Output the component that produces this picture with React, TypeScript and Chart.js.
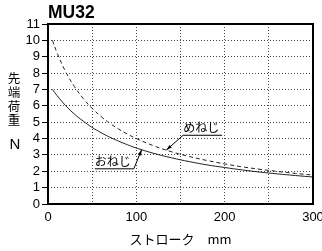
import React, { useEffect, useRef } from "react";
import { Chart, registerables } from "chart.js";

Chart.register(...registerables);

const title = "MU32";
const yTitleChars = ["先", "端", "荷", "重"];
const yUnit = "N";
const xTitle = "ストローク　mm";

const strokeMm = [5, 10, 20, 30, 40, 50, 60, 70, 80, 90, 100, 120, 140, 160, 180, 200, 220, 240, 260, 280, 300];
const meneji = [10.0, 9.27, 8.08, 7.17, 6.44, 5.84, 5.35, 4.93, 4.58, 4.27, 4.0, 3.55, 3.19, 2.9, 2.66, 2.45, 2.27, 2.12, 1.99, 1.87, 1.77];
const oneji = [7.0, 6.64, 6.01, 5.49, 5.06, 4.68, 4.36, 4.08, 3.84, 3.62, 3.42, 3.09, 2.82, 2.59, 2.39, 2.23, 2.08, 1.95, 1.84, 1.74, 1.65];

const xTicks = [0, 100, 200, 300];

// callout labels in data units
const menejiLabel = { text: "めねじ", tx: 153, ty: 4.2, ax: 134, ay: 3.3 };
const onejiLabel = { text: "おねじ", tx: 53, ty: 2.15, ax: 106, ay: 3.32 };

const FONT = "'Liberation Sans', Arial, sans-serif";
const JFONT = "'Noto Sans CJK JP', sans-serif";

export default function App() {
  const ref = useRef<HTMLCanvasElement>(null);
  useEffect(() => {
    document.body.style.margin = "0";
    const overlay = {
      id: "overlay",
      afterDatasetsDraw(chart: any) {
        const { ctx, chartArea, scales } = chart;
        const xs = scales.x, ys = scales.y;
        ctx.save();
        ctx.strokeStyle = "#000";
        ctx.lineWidth = 2;
        ctx.setLineDash([]);
        ctx.strokeRect(chartArea.left, chartArea.top, chartArea.right - chartArea.left, chartArea.bottom - chartArea.top);
        ctx.fillStyle = "#000";
        ctx.font = `bold 17.5px ${FONT}`;
        ctx.textAlign = "left";
        ctx.textBaseline = "alphabetic";
        ctx.fillText(title, chartArea.left, chartArea.top - 6);
        ctx.font = `12.5px ${JFONT}`;
        ctx.textAlign = "center";
        ctx.textBaseline = "middle";
        yTitleChars.forEach((c, i) => ctx.fillText(c, 14, 78 + i * 14));
        ctx.font = `15px ${FONT}`;
        ctx.fillText(yUnit, 15, 145);
        ctx.font = `13px ${JFONT}`;
        ctx.fillText(xTitle, (chartArea.left + chartArea.right) / 2, 239);
        ctx.lineWidth = 1;
        ctx.font = `12px ${JFONT}`;
        const drawCallout = (l: any, underlineFromRight: boolean) => {
          const tx = xs.getPixelForValue(l.tx);
          const ty = ys.getPixelForValue(l.ty);
          const ax = xs.getPixelForValue(l.ax);
          const ay = ys.getPixelForValue(l.ay);
          ctx.textAlign = "left";
          ctx.textBaseline = "alphabetic";
          ctx.fillText(l.text, tx, ty - 3);
          const w = ctx.measureText(l.text).width;
          const ux1 = tx, ux2 = tx + w + 3;
          ctx.beginPath();
          ctx.moveTo(ux1, ty);
          ctx.lineTo(ux2, ty);
          const sx = underlineFromRight ? ux2 : ux1;
          ctx.moveTo(sx, ty);
          ctx.lineTo(ax, ay);
          ctx.stroke();
          const ang = Math.atan2(ay - ty, ax - sx);
          ctx.beginPath();
          ctx.moveTo(ax, ay);
          ctx.lineTo(ax - 6 * Math.cos(ang - 0.3), ay - 6 * Math.sin(ang - 0.3));
          ctx.lineTo(ax - 6 * Math.cos(ang + 0.3), ay - 6 * Math.sin(ang + 0.3));
          ctx.closePath();
          ctx.fill();
        };
        drawCallout(menejiLabel, false);
        drawCallout(onejiLabel, true);
        ctx.restore();
      },
    };
    const chart = new Chart(ref.current!, {
      type: "line",
      data: {
        datasets: [
          {
            label: "めねじ",
            data: strokeMm.map((x, i) => ({ x, y: meneji[i] })),
            borderColor: "#222",
            borderWidth: 1,
            borderDash: [4, 3],
            pointRadius: 0,
            tension: 0.4,
            fill: false,
          },
          {
            label: "おねじ",
            data: strokeMm.map((x, i) => ({ x, y: oneji[i] })),
            borderColor: "#222",
            borderWidth: 1,
            pointRadius: 0,
            tension: 0.4,
            fill: false,
          },
        ],
      },
      options: {
        responsive: false,
        animation: false,
        devicePixelRatio: 1,
        layout: { padding: { top: 24, right: 9, left: 0, bottom: 0 } },
        plugins: { legend: { display: false }, tooltip: { enabled: false }, title: { display: false } },
        scales: {
          x: {
            type: "linear",
            min: 0,
            max: 300,
            afterFit(axis: any) {
              axis.height = 47;
              axis.paddingLeft = 0;
              axis.paddingRight = 0;
            },
            ticks: {
              stepSize: 50,
              padding: 6,
              color: "#000",
              font: { family: FONT, size: 13 },
              maxRotation: 0,
              autoSkip: false,
              callback: (v: any) => (xTicks.includes(Number(v)) ? String(v) : ""),
            },
            grid: { color: "#444", lineWidth: 1, drawTicks: false },
            border: { display: false, dash: [1, 2] },
          },
          y: {
            min: 0,
            max: 11,
            afterFit(axis: any) {
              axis.width = 48;
              axis.paddingTop = 0;
              axis.paddingBottom = 0;
            },
            ticks: {
              stepSize: 1,
              padding: 2,
              autoSkip: false,
              color: "#000",
              font: { family: FONT, size: 13 },
            },
            grid: { color: "#444", lineWidth: 1, tickLength: 6, tickColor: "#000", tickBorderDash: [] },
            border: { display: false, dash: [1, 2] },
          },
        },
      },
      plugins: [overlay],
    } as any);
    return () => chart.destroy();
  }, []);
  return <canvas ref={ref} width={322} height={251} />;
}
